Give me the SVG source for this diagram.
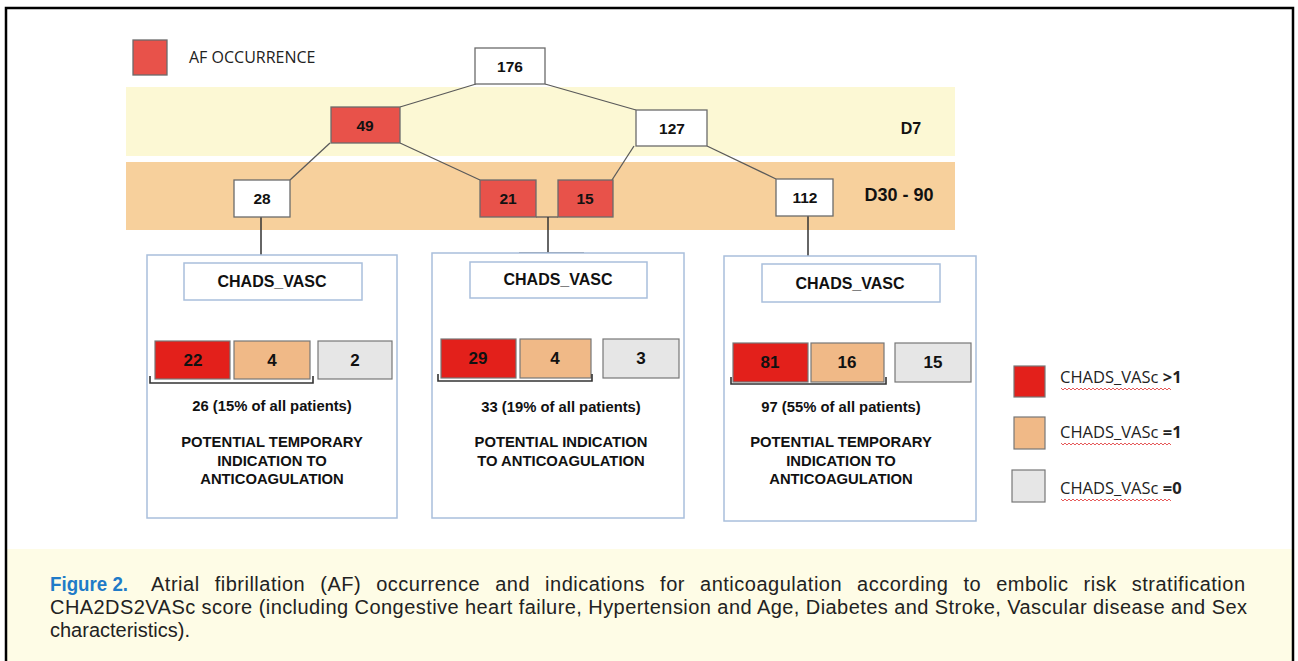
<svg xmlns="http://www.w3.org/2000/svg" width="1298" height="661" viewBox="0 0 1298 661">
<style>
  .lbl{font-family:"Liberation Sans",Arial,sans-serif;font-weight:bold;fill:#111;text-anchor:middle;dominant-baseline:central}
  .nw{fill:#fff;stroke:#6b6b6b;stroke-width:1.3}
  .nr{fill:#e8524a;stroke:#6b6b6b;stroke-width:1.3}
  .conn{stroke:#5a5a5a;stroke-width:1.3;fill:none}
  .vline{stroke:#333;stroke-width:1.5;fill:none}
  .panel{fill:#fff;stroke:#a9bfdc;stroke-width:1.5}
  .hdr{fill:#fff;stroke:#a9bfdc;stroke-width:1.5}
  .sr{fill:#e3201b;stroke:#777;stroke-width:1.2}
  .so{fill:#f0b987;stroke:#777;stroke-width:1.2}
  .sg{fill:#e6e6e6;stroke:#777;stroke-width:1.2}
  .brk{stroke:#333;stroke-width:1.6;fill:none}
  .wavy{stroke:#e03030;stroke-width:0.8;fill:none}
  .cap{font-family:"Liberation Sans",Arial,sans-serif;font-size:20px;fill:#222}
  .leg{font-family:"Open Sans","Liberation Sans",sans-serif;font-size:16.5px;fill:#222}
  .num{font-size:15.5px}
  .sq{font-size:17px}
  .pt{font-size:14.8px}
</style>
<rect x="0" y="0" width="1298" height="661" fill="#fff"/>
<!-- caption band -->
<rect x="6" y="549" width="1287" height="115" fill="#fefce6"/>
<!-- outer frame -->
<path d="M6,663 V8 H1293 V663" fill="none" stroke="#000" stroke-width="2.5"/>

<!-- bands -->
<g id="bands">
  <rect x="126" y="87" width="829" height="69" fill="#fcf8d4"/>
  <rect x="126" y="162" width="829" height="68" fill="#f7d09c"/>
  <text class="lbl" x="911" y="128" font-size="16">D7</text>
  <text class="lbl" x="899" y="195" font-size="18">D30 - 90</text>
</g>

<!-- legend AF -->
<g id="legend-af">
  <rect x="133" y="40" width="34" height="35" class="nr"/>
  <text x="189" y="57" font-family="Open Sans, Liberation Sans, sans-serif" font-size="16" fill="#222" dominant-baseline="central">AF OCCURRENCE</text>
</g>

<!-- connectors -->
<g id="connectors">
  <line class="conn" x1="476" y1="84" x2="400" y2="107"/>
  <line class="conn" x1="545" y1="84" x2="636" y2="110"/>
  <line class="conn" x1="330" y1="143" x2="290" y2="180"/>
  <line class="conn" x1="400" y1="143" x2="480" y2="180"/>
  <line class="conn" x1="634" y1="146" x2="612" y2="180"/>
  <line class="conn" x1="707" y1="146" x2="776" y2="179"/>
  <line class="conn" x1="536" y1="217" x2="558" y2="217"/>
  <line class="vline" x1="261" y1="217" x2="261" y2="255"/>
  <line class="vline" x1="548" y1="217" x2="548" y2="253"/>
  <line class="conn" x1="519" y1="253" x2="584" y2="253"/>
  <line class="vline" x1="808" y1="216" x2="808" y2="256"/>
</g>

<!-- tree nodes -->
<g id="n176"><rect class="nw" x="475" y="48" width="70" height="36"/><text class="lbl num" x="510" y="66">176</text></g>
<g id="n49"><rect class="nr" x="331" y="107" width="69" height="36"/><text class="lbl num" x="365" y="125">49</text></g>
<g id="n127"><rect class="nw" x="636" y="110" width="71" height="36"/><text class="lbl num" x="672" y="128">127</text></g>
<g id="n28"><rect class="nw" x="234" y="180" width="56" height="37"/><text class="lbl num" x="262" y="198">28</text></g>
<g id="n21"><rect class="nr" x="480" y="180" width="56" height="37"/><text class="lbl num" x="508" y="198">21</text></g>
<g id="n15"><rect class="nr" x="558" y="180" width="55" height="37"/><text class="lbl num" x="585" y="198">15</text></g>
<g id="n112"><rect class="nw" x="776" y="179" width="57" height="37"/><text class="lbl num" x="805" y="197">112</text></g>

<!-- panel 1 -->
<g id="panel1">
  <rect class="panel" x="147" y="255" width="250" height="263"/>
  <rect class="hdr" x="184" y="263" width="178" height="37"/>
  <text class="lbl" x="272" y="281" font-size="16">CHADS_VASC</text>
  <rect class="sr" x="155" y="341" width="75" height="38"/><text class="lbl sq" x="193" y="360" font-weight="normal">22</text>
  <rect class="so" x="234" y="341" width="76" height="38"/><text class="lbl sq" x="272" y="360">4</text>
  <rect class="sg" x="318" y="341" width="74" height="38"/><text class="lbl sq" x="355" y="360">2</text>
  <path class="brk" d="M150,376 V383 H313 V376"/>
  <text class="lbl pt" x="272" y="406">26 (15% of all patients)</text>
  <text class="lbl pt" x="272" y="442">POTENTIAL TEMPORARY</text>
  <text class="lbl pt" x="272" y="461">INDICATION TO</text>
  <text class="lbl pt" x="272" y="479">ANTICOAGULATION</text>
</g>

<!-- panel 2 -->
<g id="panel2">
  <rect class="panel" x="432" y="253" width="252" height="265"/>
  <rect class="hdr" x="470" y="262" width="177" height="36"/>
  <text class="lbl" x="558" y="279" font-size="16">CHADS_VASC</text>
  <rect class="sr" x="441" y="339" width="75" height="39"/><text class="lbl sq" x="478" y="358" font-weight="normal">29</text>
  <rect class="so" x="520" y="339" width="71" height="39"/><text class="lbl sq" x="555" y="358">4</text>
  <rect class="sg" x="603" y="339" width="76" height="39"/><text class="lbl sq" x="641" y="358">3</text>
  <path class="brk" d="M438,374 V381 H592 V374"/>
  <text class="lbl pt" x="561" y="407">33 (19% of all patients)</text>
  <text class="lbl pt" x="561" y="442">POTENTIAL INDICATION</text>
  <text class="lbl pt" x="561" y="461">TO ANTICOAGULATION</text>
</g>

<!-- panel 3 -->
<g id="panel3">
  <rect class="panel" x="724" y="256" width="252" height="265"/>
  <rect class="hdr" x="762" y="264" width="178" height="38"/>
  <text class="lbl" x="850" y="283" font-size="16">CHADS_VASC</text>
  <rect class="sr" x="733" y="343" width="75" height="39"/><text class="lbl sq" x="770" y="362">81</text>
  <rect class="so" x="811" y="343" width="73" height="39"/><text class="lbl sq" x="847" y="362">16</text>
  <rect class="sg" x="895" y="343" width="76" height="39"/><text class="lbl sq" x="933" y="362">15</text>
  <path class="brk" d="M731,377 V384 H886 V377"/>
  <text class="lbl pt" x="841" y="407">97 (55% of all patients)</text>
  <text class="lbl pt" x="841" y="442">POTENTIAL TEMPORARY</text>
  <text class="lbl pt" x="841" y="461">INDICATION TO</text>
  <text class="lbl pt" x="841" y="479">ANTICOAGULATION</text>
</g>

<!-- legend CHADS -->
<g id="legend-chads">
  <rect class="sr" x="1014" y="366" width="31" height="31"/>
  <text class="leg" x="1060" y="383">CHADS_VASc <tspan font-weight="bold">&gt;1</tspan></text>
  <rect class="so" x="1014" y="417" width="31" height="32"/>
  <text class="leg" x="1060" y="438">CHADS_VASc <tspan font-weight="bold">=1</tspan></text>
  <rect class="sg" x="1012" y="470" width="33" height="32"/>
  <text class="leg" x="1060" y="494">CHADS_VASc <tspan font-weight="bold">=0</tspan></text>
  <path class="wavy" d="M1061,388 l2,2 l2,-2 l2,2 l2,-2 l2,2 l2,-2 l2,2 l2,-2 l2,2 l2,-2 l2,2 l2,-2 l2,2 l2,-2 l2,2 l2,-2 l2,2 l2,-2 l2,2 l2,-2 l2,2 l2,-2 l2,2 l2,-2 l2,2 l2,-2 l2,2 l2,-2 l2,2 l2,-2 l2,2 l2,-2 l2,2 l2,-2 l2,2 l2,-2 l2,2 l2,-2 l2,2 l2,-2 l2,2 l2,-2 l2,2 l2,-2 l2,2 l2,-2 l2,2 l2,-2 l2,2 l2,-2 l2,2 l2,-2 l2,2 l2,-2 l2,2"/>
  <path class="wavy" d="M1061,443 l2,2 l2,-2 l2,2 l2,-2 l2,2 l2,-2 l2,2 l2,-2 l2,2 l2,-2 l2,2 l2,-2 l2,2 l2,-2 l2,2 l2,-2 l2,2 l2,-2 l2,2 l2,-2 l2,2 l2,-2 l2,2 l2,-2 l2,2 l2,-2 l2,2 l2,-2 l2,2 l2,-2 l2,2 l2,-2 l2,2 l2,-2 l2,2 l2,-2 l2,2 l2,-2 l2,2 l2,-2 l2,2 l2,-2 l2,2 l2,-2 l2,2 l2,-2 l2,2 l2,-2 l2,2 l2,-2 l2,2 l2,-2 l2,2 l2,-2 l2,2"/>
  <path class="wavy" d="M1061,499 l2,2 l2,-2 l2,2 l2,-2 l2,2 l2,-2 l2,2 l2,-2 l2,2 l2,-2 l2,2 l2,-2 l2,2 l2,-2 l2,2 l2,-2 l2,2 l2,-2 l2,2 l2,-2 l2,2 l2,-2 l2,2 l2,-2 l2,2 l2,-2 l2,2 l2,-2 l2,2 l2,-2 l2,2 l2,-2 l2,2 l2,-2 l2,2 l2,-2 l2,2 l2,-2 l2,2 l2,-2 l2,2 l2,-2 l2,2 l2,-2 l2,2 l2,-2 l2,2 l2,-2 l2,2 l2,-2 l2,2 l2,-2 l2,2 l2,-2 l2,2"/>
</g>

<!-- caption -->
<g id="caption">
  <text x="50" y="591" font-family="Liberation Sans Narrow, Liberation Sans, sans-serif" font-weight="bold" font-size="21" fill="#1f7bc8" textLength="78" lengthAdjust="spacingAndGlyphs">Figure 2.</text>
  <text class="cap" x="151" y="591" word-spacing="9" textLength="1094" lengthAdjust="spacing">Atrial fibrillation (AF) occurrence and indications for anticoagulation according to embolic risk stratification</text>
  <text class="cap" x="50" y="614" textLength="1197" lengthAdjust="spacing">CHA2DS2VASc score (including Congestive heart failure, Hypertension and Age, Diabetes and Stroke, Vascular disease and Sex</text>
  <text class="cap" x="50" y="637">characteristics).</text>
</g>
</svg>
